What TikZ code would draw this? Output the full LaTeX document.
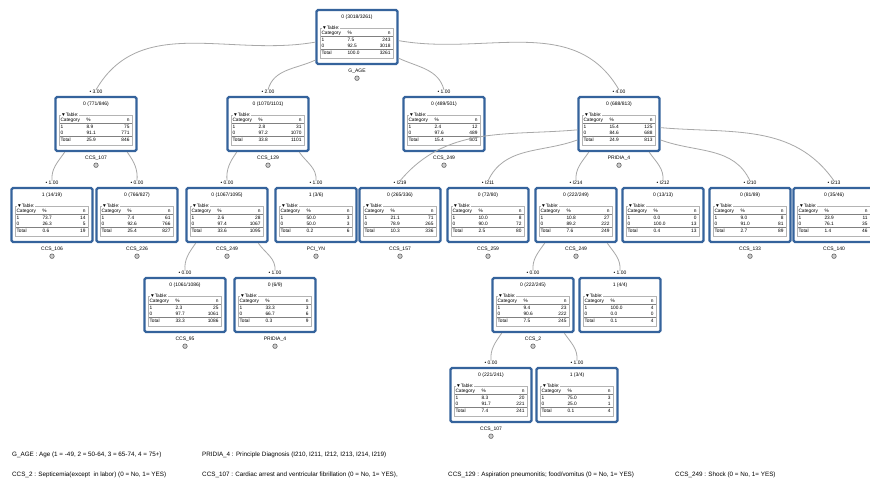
\documentclass[tikz,border=0pt]{standalone}
\usepackage{fontspec}
\setmainfont{Liberation Sans}
\usepackage{tikz}
\usetikzlibrary{calc, positioning}

\definecolor{frameblue}{HTML}{35639C}
\definecolor{linegray}{HTML}{A8A8A8}
\definecolor{gridgray}{HTML}{B4B4B4}

\newcommand{\trow}[3]{\makebox[26pt][l]{#1}\makebox[34pt][l]{#2}\makebox[9pt][r]{#3}}

\tikzset{
  tbox/.style={draw=frameblue, line width=2.4pt, rounded corners=1.5pt, fill=white, minimum width=81pt, minimum height=54pt, inner sep=0pt},
  hd/.style={font=\fontsize{5}{5}\selectfont, inner sep=0pt},
  cell/.style={font=\fontsize{4.8}{5}\selectfont, inner sep=0pt, anchor=west},
  tgrid/.style={draw=gridgray, line width=0.5pt},
  rule/.style={draw=gray, line width=0.7pt},
  elab/.style={font=\fontsize{5}{5}\selectfont, inner sep=0pt, anchor=south},
  vlab/.style={font=\fontsize{5}{5}\selectfont, inner sep=0pt},
  knob/.style={circle, draw=gray!80!black, fill=gray!40, line width=0.6pt, minimum size=4.5pt, inner sep=0pt},
  edge/.style={draw=linegray, line width=0.8pt},
  legend/.style={font=\fontsize{6.3}{7}\selectfont, anchor=base west, inner sep=0pt},
}

\begin{document}
\begin{tikzpicture}[x=1pt, y=1pt]
  \useasboundingbox (0,0) rectangle (870,482);
  \fill[white] (0,0) rectangle (870,482);

  \foreach \nm/\x/\y/\cl/\k/\pa/\na/\pb/\nb/\pt/\nt in {
      root/357/445/0/3018/7.5/243/92.5/3018/100.0/3261,
      nA/96/358/0/771/8.9/75/91.1/771/25.9/846,
      nB/268/358/0/1070/2.8/31/97.2/1070/33.8/1101,
      nC/444/358/0/489/2.4/12/97.6/489/15.4/501,
      nD/619/358/0/688/15.4/125/84.6/688/24.9/813,
      nA1/52/267/1/14/73.7/14/26.3/5/0.6/19,
      nA0/137/267/0/766/7.4/61/92.6/766/25.4/827,
      nB0/227/267/0/1067/2.6/28/97.4/1067/33.6/1095,
      nB1/316/267/1/3/50.0/3/50.0/3/0.2/6,
      nD9/400/267/0/265/21.1/71/78.9/265/10.3/336,
      nD1/488/267/0/72/10.0/8/90.0/72/2.5/80,
      nD4/576/267/0/222/10.8/27/89.2/222/7.6/249,
      nD2/663/267/0/13/0.0/0/100.0/13/0.4/13,
      nD0/750/267/0/81/9.0/8/91.0/81/2.7/89,
      nD3/834/267/0/35/23.9/11/76.1/35/1.4/46,
      nB00/185/177/0/1061/2.3/25/97.7/1061/33.3/1086,
      nB01/275/177/0/6/33.3/3/66.7/6/0.3/9,
      nD40/533/177/0/222/9.4/23/90.6/222/7.5/245,
      nD41/620/177/1/4/100.0/4/0.0/0/0.1/4,
      nD400/491/87/0/221/8.3/20/91.7/221/7.4/241,
      nD401/577/87/1/3/75.0/3/25.0/1/0.1/4} {
    \node[tbox] (\nm) at (\x,\y) {};
    \node[hd] (\nm-h) at ([yshift=-8]\nm.north) {\cl\ (\k/\nt)};
    \draw[tgrid] ([shift={(5,-19)}]\nm.north west) rectangle ([shift={(-5,7)}]\nm.south east);
    \node[cell, fill=white, inner xsep=0.5pt] (\nm-l) at ([shift={(6,-19)}]\nm.north west) {▼Table:};
    \node[cell] (\nm-r0) at ([shift={(6,-25)}]\nm.north west) {\trow{Category}{\%}{n}};
    \node[cell] (\nm-r1) at ([shift={(6,-31.5)}]\nm.north west) {\trow{1}{\pa}{\na}};
    \node[cell] (\nm-r2) at ([shift={(6,-37)}]\nm.north west) {\trow{0}{\pb}{\nb}};
    \node[cell] (\nm-r3) at ([shift={(6,-44)}]\nm.north west) {\trow{Total}{\pt}{\nt}};
    \draw[rule] ([shift={(6,-28)}]\nm.north west) -- ([shift={(-6,-28)}]\nm.north east);
    \draw[rule] ([shift={(6,-41)}]\nm.north west) -- ([shift={(-6,-41)}]\nm.north east);
  }

  \foreach \c/\t in {nA/3.00, nB/2.00, nC/1.00, nD/4.00, nA1/1.00, nA0/0.00,
      nB0/0.00, nB1/1.00, nD9/I219, nD1/I211, nD4/I214, nD2/I212, nD0/I210,
      nD3/I213, nB00/0.00, nB01/1.00, nD40/0.00, nD41/1.00, nD400/0.00, nD401/1.00}
    \node[elab] (\c-e) at ([yshift=2]\c.north) {• \t};

  \foreach \c/\t in {root/G\_AGE, nA/CCS\_107, nB/CCS\_129, nC/CCS\_249,
      nD/PRIDIA\_4, nA1/CCS\_106, nA0/CCS\_226, nB0/CCS\_249, nB1/PCI\_YN,
      nD9/CCS\_157, nD1/CCS\_259, nD4/CCS\_249, nD0/CCS\_133, nD3/CCS\_140,
      nB00/CCS\_95, nB01/PRIDIA\_4, nD40/CCS\_2, nD400/CCS\_107} {
    \node[vlab] (\c-v) at ([yshift=-6]\c.south) {\t};
    \node[knob] (\c-k) at ([yshift=-13]\c.south) {};
  }

  \foreach \p/\a/\c/\o/\i in {root/187/nA/190/60, root/209/nB/205/75,
      root/-27/nC/-25/105, root/-5/nD/-10/120,
      nA/-138/nA1/235/95, nA/-42/nA0/305/85,
      nB/-138/nB0/235/95, nB/-42/nB1/305/85,
      nD/188/nD9/185/50, nD/201/nD1/200/65, nD/223/nD4/235/95,
      nD/-43/nD2/305/85, nD/-21/nD0/-20/115, nD/-5/nD3/-5/125,
      nB0/-138/nB00/235/95, nB0/-42/nB01/305/85,
      nD4/-138/nD40/235/95, nD4/-42/nD41/305/85,
      nD40/-138/nD400/235/95, nD40/-42/nD401/305/85}
    \draw[edge] (\p.\a) to[out=\o, in=\i] (\c-e.north);

  \node[legend] (leg1) at (12,26) {G\_AGE : Age (1 = -49, 2 = 50-64, 3 = 65-74, 4 = 75+)};
  \node[legend] (leg2) at (202,26) {PRIDIA\_4 : Principle Diagnosis (I210, I211, I212, I213, I214, I219)};
  \node[legend] (leg3) at (12,6) {CCS\_2 : Septicemia(except\ \ in labor) (0 = No, 1= YES)};
  \node[legend] (leg4) at (202,6) {CCS\_107 : Cardiac arrest and ventricular fibrillation (0 = No, 1= YES),};
  \node[legend] (leg5) at (448,6) {CCS\_129 : Aspiration pneumonitis; food/vomitus (0 = No, 1= YES)};
  \node[legend] (leg6) at (675,6) {CCS\_249 : Shock (0 = No, 1= YES)};
\end{tikzpicture}
\end{document}
